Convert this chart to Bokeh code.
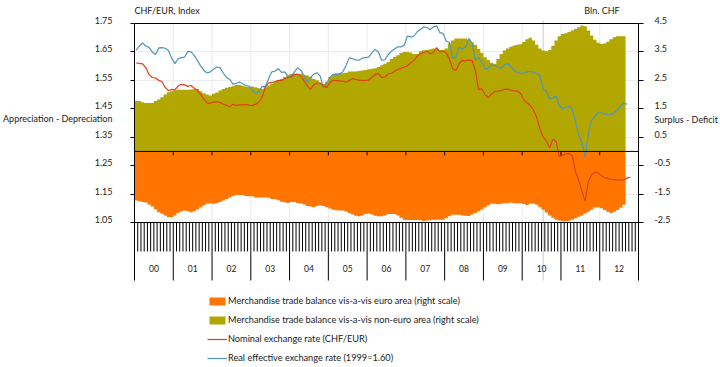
from bokeh.plotting import figure
from bokeh.models import (Range1d, LinearAxis, FixedTicker, Span, Legend, LegendItem, Grid)
from bokeh.core.properties import value
from bokeh.embed import file_html
from bokeh.resources import INLINE

# ---------------- data (monthly, Jan 2000 onwards) ----------------
year_labels = ["00", "01", "02", "03", "04", "05", "06", "07", "08", "09", "10", "11", "12"]

# Merchandise trade balance vis-a-vis euro area (bln CHF, right scale)
euro_area = [
    -1.73, -1.75, -1.78, -1.80, -1.87, -1.94, -2.03, -2.14, -2.19, -2.25, -2.31, -2.31,
    -2.25, -2.17, -2.11, -2.08, -2.10, -2.14, -2.10, -2.03, -1.96, -1.90, -1.84, -1.82,
    -1.84, -1.82, -1.78, -1.73, -1.67, -1.62, -1.57, -1.53, -1.53, -1.53, -1.57, -1.58,
    -1.58, -1.62, -1.62, -1.62, -1.62, -1.63, -1.67, -1.67, -1.72, -1.77, -1.79, -1.81,
    -1.78, -1.78, -1.81, -1.83, -1.87, -1.92, -1.94, -1.96, -1.92, -1.90, -1.92, -1.96,
    -2.01, -2.05, -2.07, -2.08, -2.08, -2.11, -2.17, -2.22, -2.26, -2.28, -2.25, -2.20,
    -2.18, -2.22, -2.26, -2.28, -2.28, -2.25, -2.20, -2.20, -2.20, -2.25, -2.33, -2.40,
    -2.41, -2.41, -2.41, -2.41, -2.41, -2.45, -2.43, -2.42, -2.40, -2.40, -2.40, -2.40,
    -2.34, -2.28, -2.23, -2.23, -2.23, -2.25, -2.26, -2.27, -2.22, -2.17, -2.10, -2.04,
    -1.96, -1.90, -1.84, -1.84, -1.86, -1.84, -1.82, -1.82, -1.80, -1.82, -1.82, -1.82,
    -1.85, -1.89, -1.84, -1.84, -1.88, -1.96, -2.05, -2.15, -2.25, -2.33, -2.40, -2.43,
    -2.46, -2.46, -2.44, -2.40, -2.35, -2.30, -2.25, -2.18, -2.12, -2.05, -1.97, -1.96,
    -2.00, -2.06, -2.12, -2.17, -2.12, -2.06, -1.98, -1.88,
]

# Merchandise trade balance vis-a-vis non-euro area (bln CHF, right scale)
non_euro_area = [
    1.77, 1.77, 1.73, 1.70, 1.70, 1.70, 1.77, 1.83, 1.91, 2.00, 2.08, 2.12,
    2.15, 2.17, 2.17, 2.17, 2.17, 2.18, 2.20, 2.20, 2.12, 2.05, 2.00, 1.97,
    2.03, 2.07, 2.14, 2.20, 2.24, 2.27, 2.30, 2.34, 2.34, 2.31, 2.28, 2.27,
    2.28, 2.26, 2.22, 2.20, 2.26, 2.32, 2.38, 2.46, 2.50, 2.55, 2.62, 2.67,
    2.72, 2.73, 2.73, 2.73, 2.70, 2.67, 2.62, 2.55, 2.50, 2.42, 2.38, 2.45,
    2.62, 2.70, 2.75, 2.75, 2.75, 2.77, 2.81, 2.81, 2.81, 2.83, 2.85, 2.86,
    2.89, 2.91, 2.93, 2.97, 3.03, 3.08, 3.15, 3.25, 3.32, 3.38, 3.46, 3.50,
    3.50, 3.48, 3.43, 3.43, 3.52, 3.56, 3.57, 3.59, 3.62, 3.60, 3.57, 3.57,
    3.62, 3.80, 3.90, 3.97, 3.97, 3.97, 3.97, 3.92, 3.84, 3.75, 3.61, 3.47,
    3.31, 3.22, 3.12, 3.08, 3.25, 3.43, 3.55, 3.62, 3.68, 3.73, 3.75, 3.77,
    3.85, 3.95, 4.00, 3.90, 3.75, 3.62, 3.55, 3.52, 3.57, 3.72, 3.90, 4.05,
    4.13, 4.16, 4.20, 4.25, 4.31, 4.37, 4.43, 4.40, 4.25, 4.08, 3.93, 3.82,
    3.78, 3.80, 3.86, 3.95, 4.02, 4.05, 4.05, 4.05,
]

# Nominal exchange rate CHF/EUR (left scale)
nominal_chf_eur = [
    1.611, 1.610, 1.608, 1.595, 1.570, 1.560, 1.558, 1.550, 1.546, 1.525, 1.514, 1.518,
    1.517, 1.530, 1.536, 1.534, 1.529, 1.532, 1.522, 1.514, 1.500, 1.484, 1.470, 1.470,
    1.474, 1.474, 1.472, 1.466, 1.462, 1.458, 1.466, 1.462, 1.464, 1.464, 1.465, 1.463,
    1.462, 1.466, 1.474, 1.491, 1.525, 1.541, 1.543, 1.545, 1.550, 1.549, 1.556, 1.560,
    1.563, 1.571, 1.571, 1.565, 1.548, 1.530, 1.518, 1.535, 1.540, 1.540, 1.530, 1.525,
    1.543, 1.550, 1.549, 1.548, 1.547, 1.544, 1.550, 1.556, 1.553, 1.551, 1.549, 1.550,
    1.551, 1.561, 1.570, 1.574, 1.560, 1.562, 1.572, 1.575, 1.582, 1.588, 1.592, 1.597,
    1.601, 1.612, 1.620, 1.635, 1.643, 1.649, 1.652, 1.644, 1.648, 1.665, 1.650, 1.653,
    1.646, 1.625, 1.590, 1.585, 1.610, 1.620, 1.618, 1.621, 1.620, 1.585, 1.518, 1.520,
    1.500, 1.489, 1.502, 1.511, 1.512, 1.514, 1.518, 1.519, 1.516, 1.513, 1.512, 1.505,
    1.482, 1.470, 1.462, 1.445, 1.420, 1.380, 1.350, 1.336, 1.313, 1.343, 1.335, 1.282,
    1.287, 1.291, 1.293, 1.285, 1.227, 1.200, 1.160, 1.125, 1.195, 1.218, 1.227, 1.225,
    1.215, 1.207, 1.205, 1.202, 1.201, 1.200, 1.200, 1.200, 1.206, 1.210,
]

# Real effective exchange rate (1999 = 1.60, left scale)
real_effective = [
    1.656, 1.670, 1.682, 1.671, 1.666, 1.650, 1.641, 1.664, 1.665, 1.663, 1.655, 1.628,
    1.609, 1.626, 1.630, 1.632, 1.652, 1.650, 1.638, 1.620, 1.600, 1.585, 1.576, 1.580,
    1.590, 1.597, 1.594, 1.575, 1.560, 1.553, 1.536, 1.540, 1.544, 1.538, 1.532, 1.530,
    1.515, 1.505, 1.509, 1.529, 1.528, 1.556, 1.580, 1.582, 1.591, 1.578, 1.580, 1.565,
    1.565, 1.580, 1.594, 1.585, 1.565, 1.544, 1.560, 1.572, 1.577, 1.565, 1.523, 1.540,
    1.560, 1.571, 1.570, 1.572, 1.580, 1.603, 1.630, 1.626, 1.622, 1.621, 1.628, 1.630,
    1.632, 1.647, 1.659, 1.650, 1.621, 1.622, 1.640, 1.652, 1.660, 1.668, 1.668, 1.674,
    1.706, 1.702, 1.706, 1.721, 1.729, 1.738, 1.736, 1.729, 1.738, 1.742, 1.718, 1.715,
    1.688, 1.683, 1.628, 1.632, 1.667, 1.660, 1.668, 1.697, 1.682, 1.621, 1.630, 1.615,
    1.590, 1.593, 1.605, 1.602, 1.597, 1.593, 1.605, 1.609, 1.598, 1.585, 1.578, 1.575,
    1.575, 1.580, 1.582, 1.578, 1.575, 1.565, 1.520, 1.512, 1.485, 1.488, 1.495, 1.460,
    1.450, 1.455, 1.458, 1.450, 1.405, 1.358, 1.330, 1.280, 1.365, 1.410, 1.423, 1.436,
    1.436, 1.431, 1.429, 1.429, 1.436, 1.447, 1.460, 1.470, 1.466,
]

left_ticks = [1.05, 1.15, 1.25, 1.35, 1.45, 1.55, 1.65, 1.75]
right_ticks = [-2.5, -1.5, -0.5, 0.5, 1.5, 2.5, 3.5, 4.5]
marker_month = [126.5]   # thin grey vertical marker line (mid 2010)

# ---------------- layout / style ----------------
FONT = "Lato"
FS = "9px"
FS_LEG = "9.2px"
FS_YEAR = "8.5px"
TXT = "#1a1a1a"
ORANGE = "#FF7500"
OLIVE = "#B2A600"
RED = "#E2401A"
BLUE = "#4F95BD"

W, H = 720, 367
BL, BR = 132, 77
BOX_TOP = 23                        # page y of the chart box top (1.75 / 4.5)
LIFT = 3                            # tick labels sit a few px above their ticks
BT = BOX_TOP - LIFT                 # frame starts slightly above the box
FRAME_W = W - BL - BR
N_MONTHS = 12 * len(year_labels)
PX_MONTH = FRAME_W / N_MONTHS
CHART_PX = 199                      # pixel height of the chart box (1.75 .. 1.05)
L_TOP, L_BOT = left_ticks[-1], left_ticks[0]
R_TOP, R_BOT = right_ticks[-1], right_ticks[0]
l_ppu = CHART_PX / (L_TOP - L_BOT)
r_ppu = CHART_PX / (R_TOP - R_BOT)


def ly(px):   # pixels below the box top -> left-scale value
    return L_TOP - px / l_ppu


def ry(px):   # pixels below the box top -> right-scale value
    return R_TOP - px / r_ppu


def mx(px):   # canvas x pixel -> month coordinate
    return (px - BL) / PX_MONTH


p = figure(width=W, height=H, output_backend="svg", toolbar_location=None,
           x_range=Range1d(0, N_MONTHS), y_range=Range1d(ly(H - BOX_TOP), ly(-LIFT)),
           x_axis_location=None, y_axis_location=None,
           min_border_left=BL, min_border_right=BR, min_border_top=BT, min_border_bottom=0)
p.extra_y_ranges = {"right": Range1d(ry(H - BOX_TOP), ry(-LIFT))}
p.outline_line_color = None
p.grid.visible = False
p.background_fill_color = "white"
p.border_fill_color = "white"

year_bounds = list(range(0, N_MONTHS + 1, 12))
month_bounds = [m for m in range(1, N_MONTHS) if m % 12]

# faint grid
p.add_layout(Grid(dimension=1, ticker=FixedTicker(ticks=left_ticks[1:-1]),
                  grid_line_color="#ebebeb", grid_line_width=1))
p.segment(x0=year_bounds[1:-1], y0=L_BOT, x1=year_bounds[1:-1], y1=L_TOP,
          line_color="#ebebeb", line_width=1)
# grey marker line
p.segment(x0=marker_month, y0=ly(257), x1=marker_month, y1=ly(-LIFT - 2),
          line_color="#cccccc", line_width=1)


def step_area(vals):
    xs, ys = [0], [0.0]
    for i, v in enumerate(vals):
        xs += [i, i + 1]
        ys += [v, v]
    xs.append(len(vals))
    ys.append(0.0)
    return xs, ys


xo, yo = step_area(euro_area)
r_euro = p.patch(xo, yo, fill_color=ORANGE, line_color=None, y_range_name="right")
xn, yn = step_area(non_euro_area)
r_non = p.patch(xn, yn, fill_color=OLIVE, line_color=None, y_range_name="right")

r_reer = p.line(x=[i + 0.5 for i in range(len(real_effective))], y=real_effective,
                line_color=BLUE, line_width=1.2)
r_nom = p.line(x=[i + 0.5 for i in range(len(nominal_chf_eur))], y=nominal_chf_eur,
               line_color=RED, line_width=1.2)

# box top line, zero line and chart bottom line
p.add_layout(Span(location=L_TOP, dimension="width", line_color="black", line_width=1))
p.add_layout(Span(location=0, dimension="width", y_range_name="right",
                  line_color="black", line_width=1))
p.add_layout(Span(location=L_BOT, dimension="width", line_color="black", line_width=1))
# small ticks under the zero line
p.segment(x0=year_bounds, y0=0, x1=year_bounds, y1=-4 / r_ppu, y_range_name="right",
          line_color="black", line_width=1)
# time axis: monthly ticks, year separators, year labels
p.segment(x0=month_bounds, y0=L_BOT, x1=month_bounds, y1=ly(228),
          line_color="black", line_width=1)
p.segment(x0=year_bounds, y0=L_BOT, x1=year_bounds, y1=ly(257),
          line_color="black", line_width=1)
p.text(x=[12 * i + 6 for i in range(len(year_labels))], y=[ly(245)] * len(year_labels),
       text=year_labels, text_align="center", text_baseline="middle",
       text_font=value(FONT), text_font_size=FS_YEAR, text_color=TXT)


def style_axis(ax, minor_out, standoff, line_color):
    ax.major_tick_out = 0
    ax.major_tick_in = 0
    ax.minor_tick_out = minor_out
    ax.minor_tick_in = 0
    ax.axis_line_color = line_color
    ax.minor_tick_line_color = "black"
    ax.major_tick_line_color = None
    ax.major_label_standoff = standoff
    ax.major_label_text_font = FONT
    ax.major_label_text_font_size = FS
    ax.major_label_text_color = TXT


# left axis: tick marks at the values; labels a few px higher, plus the side caption
dl = LIFT / l_ppu
l_pos = [t + dl for t in left_ticks] + [ly(95)]
l_txt = ["%.2f" % t for t in left_ticks] + ["Appreciation - Depreciation"]
la = LinearAxis(ticker=FixedTicker(ticks=l_pos, minor_ticks=left_ticks),
                bounds=(ly(257), L_TOP), major_label_overrides=dict(zip(l_pos, l_txt)))
style_axis(la, 4, 18, "black")
la.bounds = (ly(257), L_TOP)
p.add_layout(la, "left")

# right axis
dr = LIFT / r_ppu
r_pos = [t + dr for t in right_ticks] + [ry(96)]
r_txt = ["%.1f" % t for t in right_ticks] + ["Surplus - Deficit"]
ra = LinearAxis(y_range_name="right", ticker=FixedTicker(ticks=r_pos, minor_ticks=right_ticks),
                bounds=(ry(257), R_TOP), major_label_overrides=dict(zip(r_pos, r_txt)))
style_axis(ra, 5, 11, "black")
p.add_layout(ra, "right")

# top: the two unit captions
t_pos = [mx(165), mx(606)]
ta = LinearAxis(ticker=FixedTicker(ticks=t_pos),
                major_label_overrides=dict(zip(t_pos, ["CHF/EUR, Index", "Bln. CHF"])))
style_axis(ta, 0, 8 - LIFT, None)
p.add_layout(ta, "above")

legend = Legend(items=[
    LegendItem(label="Merchandise trade balance vis-a-vis euro area (right scale)", renderers=[r_euro]),
    LegendItem(label="Merchandise trade balance vis-a-vis non-euro area (right scale)", renderers=[r_non]),
    LegendItem(label="Nominal exchange rate (CHF/EUR)", renderers=[r_nom]),
    LegendItem(label="Real effective exchange rate (1999=1.60)", renderers=[r_reer]),
], location=(73, 4), orientation="vertical", padding=0, margin=0, spacing=8,
    label_height=10, glyph_width=20, glyph_height=10, label_standoff=1,
    border_line_color=None, background_fill_alpha=0,
    label_text_font=FONT, label_text_font_size=FS_LEG, label_text_color=TXT)
p.add_layout(legend)

open("out.html", "w").write(file_html(p, INLINE))
